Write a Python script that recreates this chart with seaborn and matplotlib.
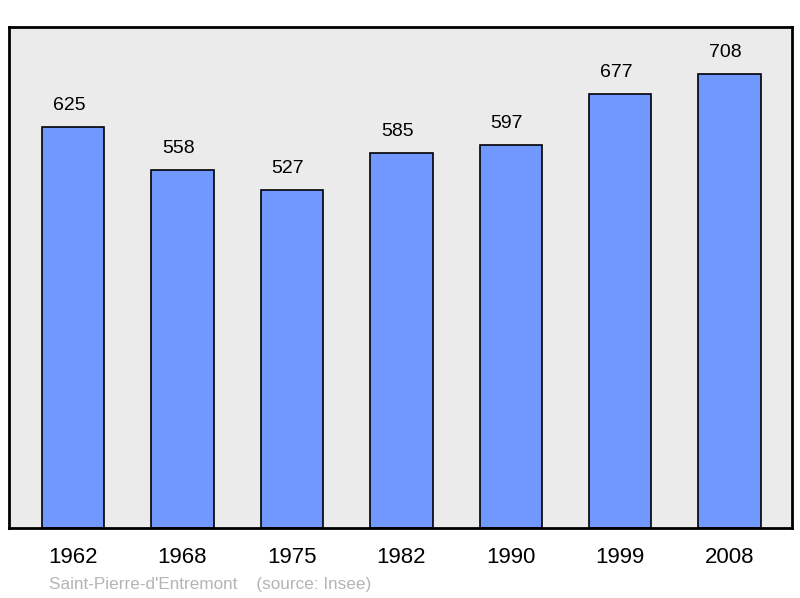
import pandas as pd
import matplotlib
matplotlib.use("Agg")
import matplotlib.pyplot as plt
import seaborn as sns

years = ["1962", "1968", "1975", "1982", "1990", "1999", "2008"]
population = [625, 558, 527, 585, 597, 677, 708]

df = pd.DataFrame({"year": years, "population": population})

sns.set_style("white")
plt.rcParams["font.family"] = ["Liberation Sans", "DejaVu Sans"]

fig = plt.figure(figsize=(8, 5.98), dpi=100)
ax = fig.add_axes([9 / 800, 70 / 598, 783 / 800, 501 / 598])
ax.set_facecolor("#ebebeb")

sns.barplot(data=df, x="year", y="population", color="#7098ff", saturation=1,
            width=0.57, edgecolor="black", linewidth=1.2, ax=ax)

for i, v in enumerate(population):
    ax.annotate(str(v), (i, v), xytext=(-3, 9.5), textcoords="offset points",
                ha="center", va="bottom", fontsize=14, color="black")

ax.set_xlim(-0.585, 6.57)
ax.set_ylim(0, 781)
ax.set_xlabel("")
ax.set_ylabel("")
ax.set_yticks([])
ax.tick_params(axis="x", length=0, pad=14, labelsize=16, labelcolor="black")
for s in ax.spines.values():
    s.set_linewidth(2)
    s.set_color("black")

fig.text(49 / 800, 1 - 584 / 598, "Saint-Pierre-d'Entremont    (source: Insee)",
         fontsize=12.3, color="#b4b4b4", va="center", ha="left")

fig.savefig("out.png", dpi=100)
